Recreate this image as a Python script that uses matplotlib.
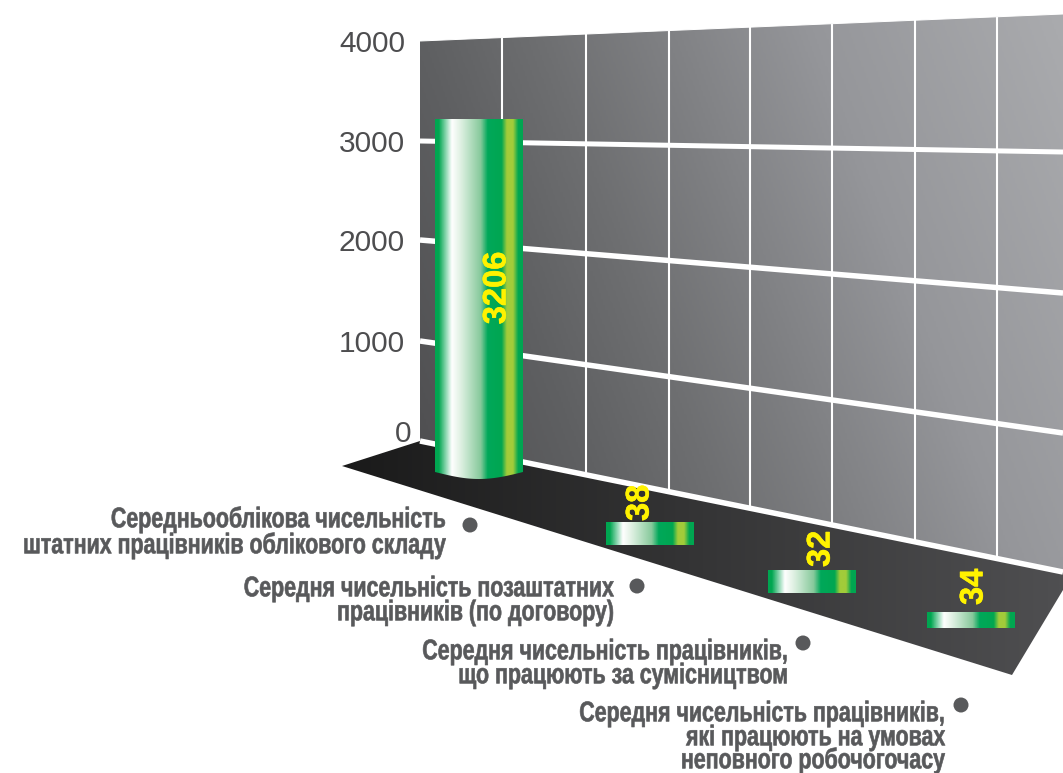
import matplotlib
matplotlib.use('Agg')
import matplotlib.patheffects as path_effects
import matplotlib.pyplot as plt
import numpy as np
from matplotlib.colors import LinearSegmentedColormap
from matplotlib.patches import Circle, PathPatch, Polygon
from matplotlib.path import Path
from matplotlib.transforms import Affine2D

# data
tick_values = [0, 1000, 2000, 3000, 4000]
bar_values = [3206, 38, 32, 34]
category_lines = [
    ['Середньооблікова чисельність', 'штатних працівників облікового складу'],
    ['Середня чисельність позаштатних', 'працівників (по договору)'],
    ['Середня чисельність працівників,', 'що працюють за сумісництвом'],
    ['Середня чисельність працівників,', 'які працюють на умовах', 'неповного робочогочасу'],
]

# layout, in pixels of the 1063x773 picture
HEIGHT = 773
WALL_LEFT, WALL_RIGHT = 420, 1063
wall_left_y = [441, 341, 240, 141, 41]
wall_right_y = [572, 433, 293, 152, 14]
grid_widths = [5.5, 5.5, 5.5, 5, 1]
column_x = [502, 586, 669, 750, 832, 915, 997]
floor_xy = [(342, 466), (420, 441), (1063, 572), (1063, 590), (1012, 675)]

bar_left = [435, 606, 768, 927]
bar_width = 88
bar_base = [472, 545, 593, 628]
bar_stub = [0, 18.7, 19.4, 12.2]  # the small discs are drawn thicker than their value
px_per_unit = 353 / 3206
bar_sag = [7, 0, 0, 0]
value_xy = [(497, 288), (640, 521), (821, 567), (974, 605)]

bullet_xy = [(470, 525), (637, 586), (803, 643), (961, 705)]
label_right = [447, 615, 789, 946]
label_y = [[520, 546], [589, 613], [652, 676], [714, 738, 761]]

TEXT_GREY = '#58595b'
green_cmap = LinearSegmentedColormap.from_list('bar', [
    (0, '#00a651'), (0.04, '#00a651'), (0.19, '#ffffff'), (0.3, '#dcefe0'),
    (0.52, '#86c99b'), (0.6, '#00a85a'), (0.76, '#00a651'), (0.82, '#a2cc3a'),
    (0.89, '#a2cc3a'), (0.95, '#00a651'), (1, '#00a651')])
wall_cmap = LinearSegmentedColormap.from_list('wall', [
    (0, '#4c4c4e'), (0.06, '#505052'), (0.24, '#5f6062'), (0.38, '#6e6f71'),
    (0.7, '#95969a'), (1, '#aaabae')])
floor_cmap = LinearSegmentedColormap.from_list('floor', ['#1a1a1a', '#353536', '#4f4f51'])


class Tall(path_effects.AbstractPathEffect):
    """Stretch the glyphs upward around their line, and thicken them, for a condensed look."""

    def __init__(self, center_y, stretch, stroke):
        super().__init__()
        self.center_y = center_y
        self.stretch = stretch
        self.stroke = stroke

    def draw_path(self, renderer, gc, tpath, affine, rgbFace):
        gc0 = renderer.new_gc()
        gc0.copy_properties(gc)
        gc0.set_linewidth(self.stroke)
        gc0.set_foreground(rgbFace)
        tall = Affine2D().translate(0, -self.center_y).scale(1, self.stretch).translate(0, self.center_y)
        renderer.draw_path(gc0, tpath, affine + tall, rgbFace)
        gc0.restore()


def wall_y(value, x):
    left = np.interp(value, tick_values, wall_left_y)
    right = np.interp(value, tick_values, wall_right_y)
    return left + (right - left) * (x - WALL_LEFT) / (WALL_RIGHT - WALL_LEFT)


def gradient(ax, cmap, clip, extent, zorder, tilt=0.0):
    # paint a left to right gradient and cut it to the shape
    gx, gy = np.meshgrid(np.linspace(0, 1, 300), np.linspace(0, 1, 300))
    img = ax.imshow(gx * (1 - tilt) + (1 - gy) * tilt, cmap=cmap, extent=extent, vmin=0, vmax=1,
                    aspect='auto', zorder=zorder, interpolation='bilinear', origin='upper')
    img.set_clip_path(clip)


fig = plt.figure(figsize=(10.63, 7.73), dpi=100, facecolor='white')
ax = fig.add_axes([0, 0, 1, 1])
ax.axis('off')

# back wall
wall = Polygon([(WALL_LEFT, wall_left_y[0]), (WALL_LEFT, wall_left_y[-1]),
                (WALL_RIGHT, wall_right_y[-1]), (WALL_RIGHT, wall_right_y[0])],
               closed=True, fc='none', ec='none', transform=ax.transData)
ax.add_patch(wall)
gradient(ax, wall_cmap, wall, (WALL_LEFT, WALL_RIGHT, 575, 10), 1, tilt=0.25)

# floor
floor = Polygon(floor_xy, closed=True, fc='none', ec='none', transform=ax.transData)
ax.add_patch(floor)
gradient(ax, floor_cmap, floor, (342, 1063, 675, 441), 2)

# white grid
for cx in column_x:
    ax.plot([cx, cx], [wall_y(tick_values[-1], cx), wall_y(tick_values[0], cx)],
            color='white', lw=1.5, solid_capstyle='butt', zorder=3)
for value, width in zip(tick_values, grid_widths):
    ax.plot([WALL_LEFT, WALL_RIGHT], [wall_y(value, WALL_LEFT), wall_y(value, WALL_RIGHT)],
            color='white', lw=width * 0.72, solid_capstyle='butt', zorder=4)

# tick labels
for value in tick_values:
    right = 411 if value == 0 else 405
    y = wall_y(value, WALL_LEFT) + (-7 if value == 0 else 3)
    ax.text(right, y, str(value), ha='right', va='center', fontsize=21.5,
            family='Liberation Sans', color='#4d4d4f', zorder=6)

# bars
for i, value in enumerate(bar_values):
    x0, x1 = bar_left[i], bar_left[i] + bar_width
    base = bar_base[i]
    top = base - value * px_per_unit - bar_stub[i]
    t = np.linspace(0, 1, 40)
    arc = [(x1 - (x1 - x0) * s, base + bar_sag[i] * np.sin(np.pi * s)) for s in t]
    verts = [(x0, top), (x1, top)] + arc + [(x0, top)]
    codes = [Path.MOVETO] + [Path.LINETO] * (len(verts) - 2) + [Path.CLOSEPOLY]
    shape = PathPatch(Path(verts, codes), fc='none', ec='none', transform=ax.transData)
    ax.add_patch(shape)
    gradient(ax, green_cmap, shape, (x0, x1, base + bar_sag[i], top), 5)
    vx, vy = value_xy[i]
    ax.text(vx, vy, str(value), rotation=90, ha='center', va='center' if i == 0 else 'bottom',
            fontsize=23.5, fontweight='bold', family='Liberation Sans', color='#fff200', zorder=7,
            path_effects=[path_effects.withStroke(linewidth=0.4, foreground='#fff200')])

# category labels with their bullets
for i, lines in enumerate(category_lines):
    ax.add_patch(Circle(bullet_xy[i], 7.5, fc=TEXT_GREY, ec='none', zorder=6))
    for line, y in zip(lines, label_y[i]):
        ax.text(label_right[i], y, line, ha='right', va='center', fontsize=15.4,
                family='Liberation Sans', fontweight='bold', color=TEXT_GREY, zorder=6,
                path_effects=[Tall(HEIGHT - y, 1.33, 0.45)])

ax.set_xlim(0, 1063)
ax.set_ylim(HEIGHT, 0)
fig.savefig('out.png', dpi=100, facecolor='white')
